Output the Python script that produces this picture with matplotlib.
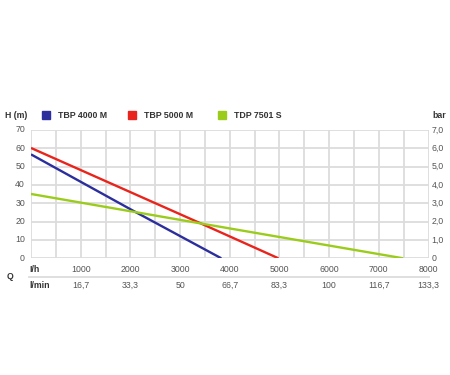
import matplotlib
matplotlib.use("Agg")
import matplotlib.pyplot as plt
from matplotlib.patches import Rectangle
from matplotlib.transforms import blended_transform_factory, offset_copy

plt.rcParams['font.family'] = ['Liberation Sans', 'DejaVu Sans']

series_names = ["TBP 4000 M", "TBP 5000 M", "TDP 7501 S"]
colors = ["#2b2e9c", "#e8241c", "#9bcc1c"]

tbp4000_q = [0, 2120, 3830]
tbp4000_h = [56.7, 25.0, 0]
tbp5000_q = [0, 3420, 4980]
tbp5000_h = [60.2, 19.0, 0]
tdp7501_q = [0, 3420, 7490]
tdp7501_h = [35.1, 19.0, 0]

lh_ticks = [1000, 2000, 3000, 4000, 5000, 6000, 7000, 8000]
lmin_labels = ["16,7", "33,3", "50", "66,7", "83,3", "100", "116,7", "133,3"]
h_ticks = [0, 10, 20, 30, 40, 50, 60, 70]
bar_labels = ["0", "1,0", "2,0", "3,0", "4,0", "5,0", "6,0", "7,0"]

W, H = 450, 375
fig = plt.figure(figsize=(4.5, 3.75), dpi=100)
ax = fig.add_axes([31 / W, 1 - 258.3 / H, (428.5 - 31) / W, (258.3 - 130) / H])

ax.set_xlim(0, 8000)
ax.set_ylim(0, 70)
grid_c = "#dcdcdc"
for x in range(0, 8001, 500):
    ax.axvline(x, color=grid_c, lw=1.3, zorder=1)
for y in h_ticks:
    ax.axhline(y, color=grid_c, lw=1.3, zorder=1)
for s in ax.spines.values():
    s.set_visible(False)
ax.set_xticks([])
ax.set_yticks([])

for q, h, c in zip([tbp4000_q, tbp5000_q, tdp7501_q],
                   [tbp4000_h, tbp5000_h, tdp7501_h], colors):
    ax.plot(q, h, color=c, lw=1.7, zorder=3, solid_capstyle='butt')

fs = 6.3
tc = "#555555"
# left and right tick labels
ytrans = blended_transform_factory(ax.transAxes, ax.transData)
left_t = offset_copy(ytrans, fig=fig, x=-6, y=0, units='dots')
right_t = offset_copy(ytrans, fig=fig, x=3, y=0, units='dots')
for y, bl in zip(h_ticks, bar_labels):
    ax.text(0, y, str(y), ha='right', va='center', fontsize=fs, color=tc,
            transform=left_t, clip_on=False)
    ax.text(1, y, bl, ha='left', va='center', fontsize=fs, color=tc,
            transform=right_t, clip_on=False)

# bottom rows
trans = blended_transform_factory(ax.transData, fig.transFigure)
y_lh = 1 - 269.5 / H
y_lmin = 1 - 285 / H
y_sep = 1 - 276.7 / H
for x, lab in zip(lh_ticks, lmin_labels):
    ax.text(x, y_lh, str(x), ha='center', va='center', fontsize=fs, color=tc, transform=trans)
    ax.text(x, y_lmin, lab, ha='center', va='center', fontsize=fs, color=tc, transform=trans)
fig.text(29 / W, y_lh, "I/h", ha='left', va='center', fontsize=fs, color="#333333", fontweight='bold')
fig.text(29 / W, y_lmin, "l/min", ha='left', va='center', fontsize=fs, color="#333333", fontweight='bold')
fig.text(10 / W, y_sep, "Q", ha='center', va='center', fontsize=fs, color="#333333", fontweight='bold')
fig.add_artist(plt.Line2D([29 / W, 428.5 / W], [y_sep, y_sep], color=grid_c, lw=1.3,
                          transform=fig.transFigure))

# header / legend
y_leg = 1 - 115 / H
fig.text(5 / W, y_leg, "H (m)", ha='left', va='center', fontsize=fs, color="#333333", fontweight='bold')
fig.text(432 / W, y_leg, "bar", ha='left', va='center', fontsize=fs, color="#333333", fontweight='bold')
sq_x = [42, 128, 218]
for sx, name, c in zip(sq_x, series_names, colors):
    fig.add_artist(Rectangle((sx / W, y_leg - 3.5 / H), 7.5 / W, 7 / H, color=c,
                             transform=fig.transFigure))
    fig.text((sx + 16) / W, y_leg, name, ha='left', va='center', fontsize=fs,
             color="#333333", fontweight='bold')

fig.savefig("out.png", dpi=100)
